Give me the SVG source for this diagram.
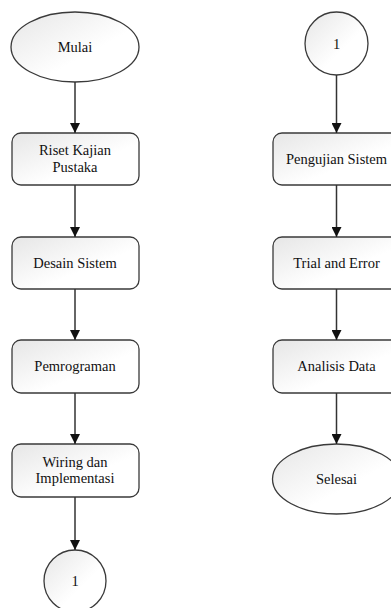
<svg xmlns="http://www.w3.org/2000/svg" width="391" height="608" viewBox="0 0 391 608">
<defs>
<linearGradient id="g" x1="0" y1="0" x2="1" y2="1">
<stop offset="0" stop-color="#e6e6e6"/>
<stop offset="0.6" stop-color="#ffffff"/>
<stop offset="1" stop-color="#ffffff"/>
</linearGradient>
<marker id="arr" viewBox="0 0 10 10" refX="10" refY="5" markerWidth="10" markerHeight="10" markerUnits="userSpaceOnUse" orient="auto">
<path d="M0,0 L10,5 L0,10 Z" fill="#111"/>
</marker>
<style>
.s{fill:url(#g);stroke:#3a3a3a;stroke-width:1.3}
.t{font-family:"Liberation Serif","Times New Roman",serif;font-size:14.5px;fill:#111;text-anchor:middle}
.c{stroke:#333;stroke-width:1.5;fill:none;marker-end:url(#arr)}
</style>
</defs>
<rect width="391" height="608" fill="#fff"/>
<g id="mulai"><ellipse class="s" cx="75" cy="47" rx="64" ry="35"/><text class="t" x="75" y="52">Mulai</text></g>
<g id="riset"><rect class="s" x="12" y="133" width="127" height="52" rx="9"/><text class="t" x="75" y="155">Riset Kajian</text><text class="t" x="75" y="172">Pustaka</text></g>
<g id="desain"><rect class="s" x="12" y="237" width="127" height="52" rx="9"/><text class="t" x="75" y="268">Desain Sistem</text></g>
<g id="pemrograman"><rect class="s" x="12" y="340" width="127" height="53" rx="9"/><text class="t" x="75" y="371">Pemrograman</text></g>
<g id="wiring"><rect class="s" x="12" y="444" width="127" height="53" rx="9"/><text class="t" x="75" y="467">Wiring dan</text><text class="t" x="75" y="483">Implementasi</text></g>
<g id="con1a"><circle class="s" cx="75" cy="581" r="31"/><text class="t" x="75" y="586">1</text></g>
<g id="con1b"><circle class="s" cx="336.5" cy="43.5" r="31.5"/><text class="t" x="336.5" y="48.5">1</text></g>
<g id="pengujian"><rect class="s" x="273" y="133" width="127" height="52" rx="9"/><text class="t" x="336.5" y="164">Pengujian Sistem</text></g>
<g id="trial"><rect class="s" x="273" y="237" width="127" height="52" rx="9"/><text class="t" x="336.5" y="268">Trial and Error</text></g>
<g id="analisis"><rect class="s" x="273" y="340" width="127" height="53" rx="9"/><text class="t" x="336.5" y="371">Analisis Data</text></g>
<g id="selesai"><ellipse class="s" cx="336.5" cy="479" rx="64" ry="35"/><text class="t" x="336.5" y="484">Selesai</text></g>
<g id="connectors">
<line class="c" x1="75" y1="82" x2="75" y2="133"/>
<line class="c" x1="75" y1="185" x2="75" y2="237"/>
<line class="c" x1="75" y1="289" x2="75" y2="340"/>
<line class="c" x1="75" y1="393" x2="75" y2="444"/>
<line class="c" x1="75" y1="497" x2="75" y2="550"/>
<line class="c" x1="336.5" y1="75" x2="336.5" y2="133"/>
<line class="c" x1="336.5" y1="185" x2="336.5" y2="237"/>
<line class="c" x1="336.5" y1="289" x2="336.5" y2="340"/>
<line class="c" x1="336.5" y1="393" x2="336.5" y2="444"/>
</g>
</svg>
